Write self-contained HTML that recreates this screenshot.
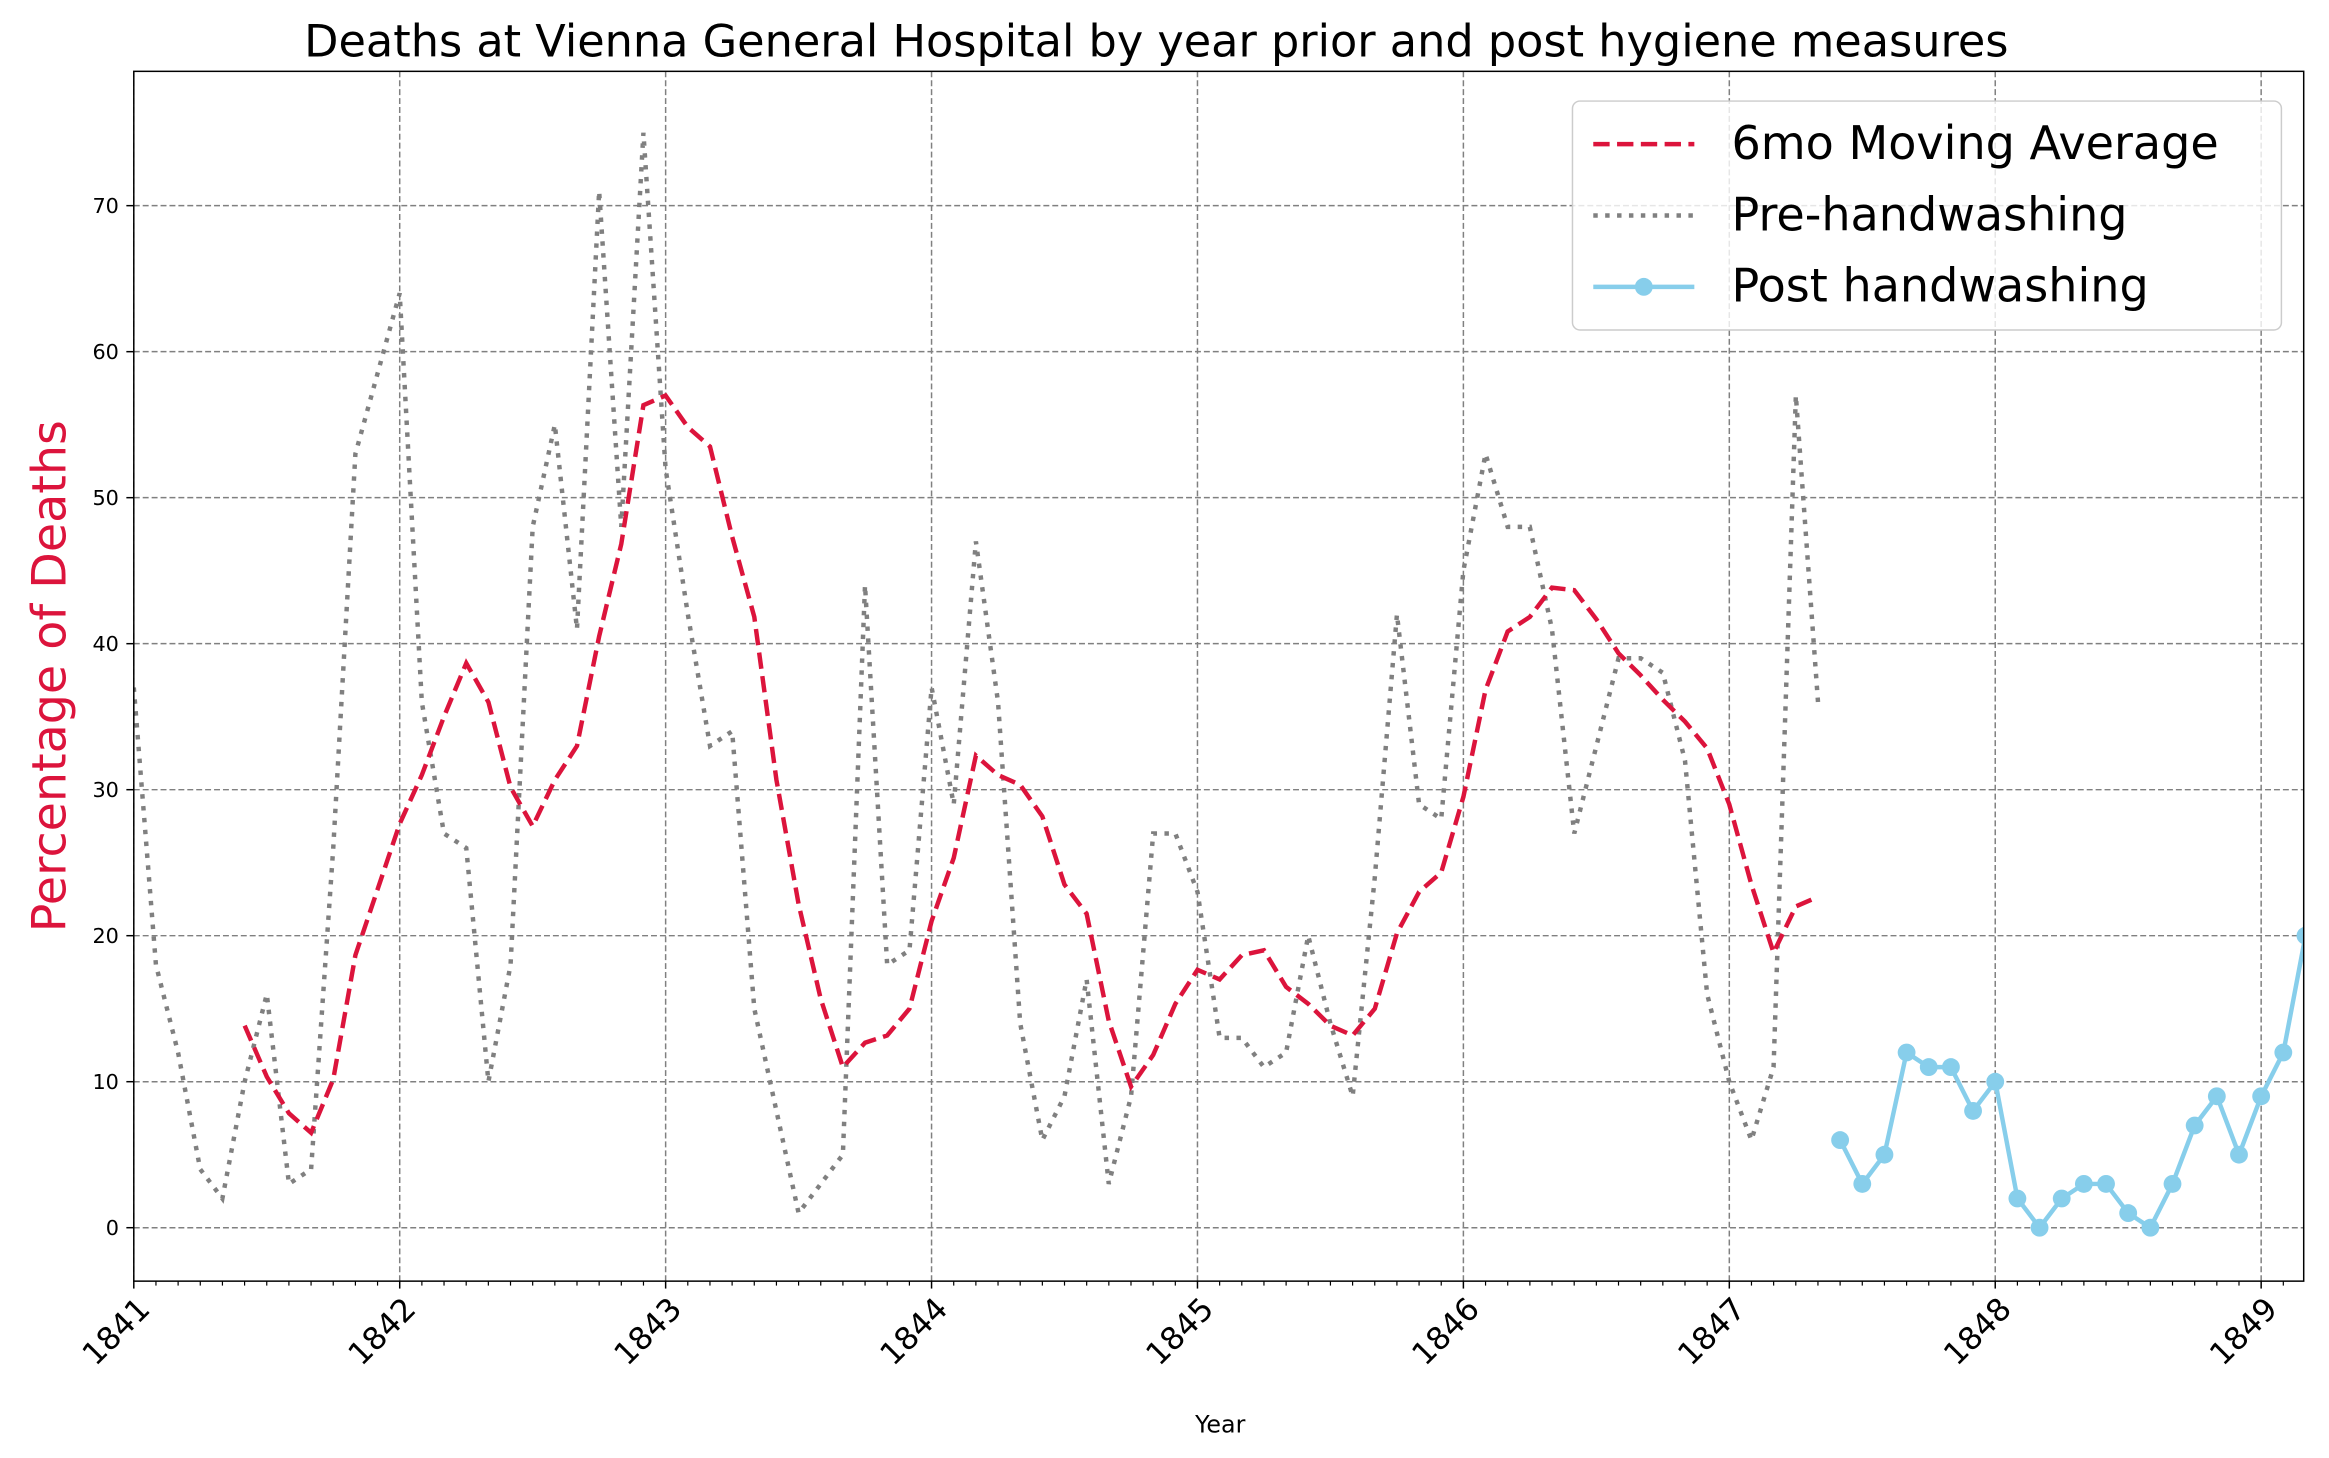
<!DOCTYPE html>
<html><head><meta charset="utf-8"><style>
html,body{margin:0;padding:0;background:#fff;}
svg{display:block;font-family:"DejaVu Sans","Liberation Sans",sans-serif;}
</style></head><body>
<svg id="chart" width="2329" height="1458" viewBox="0 0 1567 981" xmlns="http://www.w3.org/2000/svg">
<rect width="1567" height="981" fill="#fff"/>
<g id="grid"></g>
<g id="series"></g>
<rect x="90" y="48" width="1460" height="814" fill="none" stroke="#000" stroke-width="1"/>
<g id="axes"></g>
<text x="778" y="38" text-anchor="middle" font-size="30">Deaths at Vienna General Hospital by year prior and post hygiene measures</text>
<text x="821" y="964" text-anchor="middle" font-size="16">Year</text>
<text transform="translate(44,455) rotate(-90)" text-anchor="middle" font-size="32" fill="#dc143c">Percentage of Deaths</text>
<g>
<rect x="1058" y="68" width="477" height="154" rx="5" fill="#fff" fill-opacity="0.8" stroke="#ccc" stroke-width="1"/>
<line x1="1072" y1="97" x2="1140" y2="97" stroke="#dc143c" stroke-width="3" stroke-dasharray="11 5"/>
<text x="1165" y="107" font-size="31">6mo Moving Average</text>
<line x1="1072" y1="145" x2="1140" y2="145" stroke="#808080" stroke-width="3" stroke-dasharray="3 5"/>
<text x="1165" y="155" font-size="31">Pre-handwashing</text>
<line x1="1072" y1="193" x2="1140" y2="193" stroke="#87ceeb" stroke-width="3"/>
<circle cx="1106" cy="193" r="6" fill="#87ceeb"/>
<text x="1165" y="203" font-size="31">Post handwashing</text>
</g>
</svg>
<script>
const preDates = ["1841-01","1841-02","1841-03","1841-04","1841-05","1841-06","1841-07","1841-08","1841-09","1841-10","1841-11",
"1842-01","1842-02","1842-03","1842-04","1842-05","1842-06","1842-07","1842-08","1842-09","1842-10","1842-11","1842-12",
"1843-01","1843-02","1843-03","1843-04","1843-05","1843-06","1843-07","1843-08","1843-09","1843-10","1843-11","1843-12",
"1844-01","1844-02","1844-03","1844-04","1844-05","1844-06","1844-07","1844-08","1844-09","1844-10","1844-11","1844-12",
"1845-01","1845-02","1845-03","1845-04","1845-05","1845-06","1845-07","1845-08","1845-09","1845-10","1845-11","1845-12",
"1846-01","1846-02","1846-03","1846-04","1846-05","1846-06","1846-07","1846-08","1846-09","1846-10","1846-11","1846-12",
"1847-01","1847-02","1847-03","1847-04","1847-05"];
const preValues = [37,18,12,4,2,10,16,3,4,26,53,
64,36,27,26,10,18,48,55,41,71,48,75,
52,42,33,34,15,8,1,3,5,44,18,19,
37,29,47,36,14,6,9,17,3,9,27,27,
23,13,13,11,12,20,14,9,24,42,29,28,
45,53,48,48,41,27,33,39,39,38,32,16,
10,6,11,57,36];
const postDates = ["1847-06","1847-07","1847-08","1847-09","1847-10","1847-11","1847-12",
"1848-01","1848-02","1848-03","1848-04","1848-05","1848-06","1848-07","1848-08","1848-09","1848-10","1848-11","1848-12",
"1849-01","1849-02","1849-03"];
const postValues = [6,3,5,12,11,11,8,10,2,0,2,3,3,1,0,3,7,9,5,9,12,20];
const xTickLabels = ["1841","1842","1843","1844","1845","1846","1847","1848","1849"];
const yTickLabels = [0,10,20,30,40,50,60,70];
const maWindow = 6;

const NS="http://www.w3.org/2000/svg";
const X0=90,X1=1550,Y0=48,Y1=862;
const xMin=1841,xMax=1849.16,yMin=-3.66,yMax=79.2;
function dnum(s){const [y,m]=s.split("-").map(Number);return y+(m-1)/12;}
function xs(v){return X0+(v-xMin)/(xMax-xMin)*(X1-X0);}
function ys(v){return Y1-(v-yMin)/(yMax-yMin)*(Y1-Y0);}
function mk(tag,attrs,parent){const e=document.createElementNS(NS,tag);for(const k in attrs)e.setAttribute(k,attrs[k]);parent.appendChild(e);return e;}
const grid=document.getElementById("grid"),axes=document.getElementById("axes"),series=document.getElementById("series");

yTickLabels.forEach(t=>{
  const y=ys(t);
  const g=mk("line",{x1:X0,x2:X1,y1:y,y2:y,stroke:"#808080","stroke-width":1,"stroke-dasharray":"4 2"},grid);
  
  
  const tk=mk("line",{x1:X0-5,x2:X0,y1:y,y2:y,stroke:"#000","stroke-width":1},axes);
  
  
  const tx=mk("text",{x:X0-10,y:y+5,"text-anchor":"end","font-size":14},axes);
  tx.textContent=t;
  
  
});
xTickLabels.forEach(t=>{
  const x=xs(Number(t));
  const g=mk("line",{x1:x,x2:x,y1:Y0,y2:Y1,stroke:"#808080","stroke-width":1,"stroke-dasharray":"4 2"},grid);
  
  
  const tk=mk("line",{x1:x,x2:x,y1:Y1,y2:Y1+5,stroke:"#000","stroke-width":1},axes);
  
  
  const tx=mk("text",{x:0,y:0,"text-anchor":"end","font-size":21,transform:`translate(${x+12},${Y1+20}) rotate(-45)`},axes);
  tx.textContent=t;
  
  
});
for(let y=1841;y<=1849;y++)for(let m=1;m<12;m++){
  const v=y+m/12; if(v>xMax)break;
  const tk=mk("line",{x1:xs(v),x2:xs(v),y1:Y1,y2:Y1+3,stroke:"#000","stroke-width":0.8},axes);
  
  
}

const clip=mk("clipPath",{id:"pc"},series);
mk("rect",{x:X0,y:Y0,width:X1-X0,height:Y1-Y0},clip);

const prePts=preDates.map((d,i)=>`${xs(dnum(d)).toFixed(1)},${ys(preValues[i]).toFixed(1)}`).join(" ");
const pre=mk("polyline",{points:prePts,fill:"none",stroke:"#808080","stroke-width":3,"stroke-dasharray":"3 5","clip-path":"url(#pc)"},series);



const maPts=[];
for(let i=maWindow-1;i<preValues.length;i++){
  let s=0;for(let j=i-maWindow+1;j<=i;j++)s+=preValues[j];
  maPts.push(`${xs(dnum(preDates[i])).toFixed(1)},${ys(s/maWindow).toFixed(1)}`);
}
const ma=mk("polyline",{points:maPts.join(" "),fill:"none",stroke:"#dc143c","stroke-width":3,"stroke-dasharray":"11 5"},series);



const postPts=postDates.map((d,i)=>`${xs(dnum(d)).toFixed(1)},${ys(postValues[i]).toFixed(1)}`).join(" ");
const post=mk("polyline",{points:postPts,fill:"none",stroke:"#87ceeb","stroke-width":3,"clip-path":"url(#pc)"},series);


postDates.forEach((d,i)=>{
  const c=mk("circle",{cx:xs(dnum(d)),cy:ys(postValues[i]),r:6,fill:"#87ceeb","clip-path":"url(#pc)"},series);
  
  
});
</script>
</body></html>
